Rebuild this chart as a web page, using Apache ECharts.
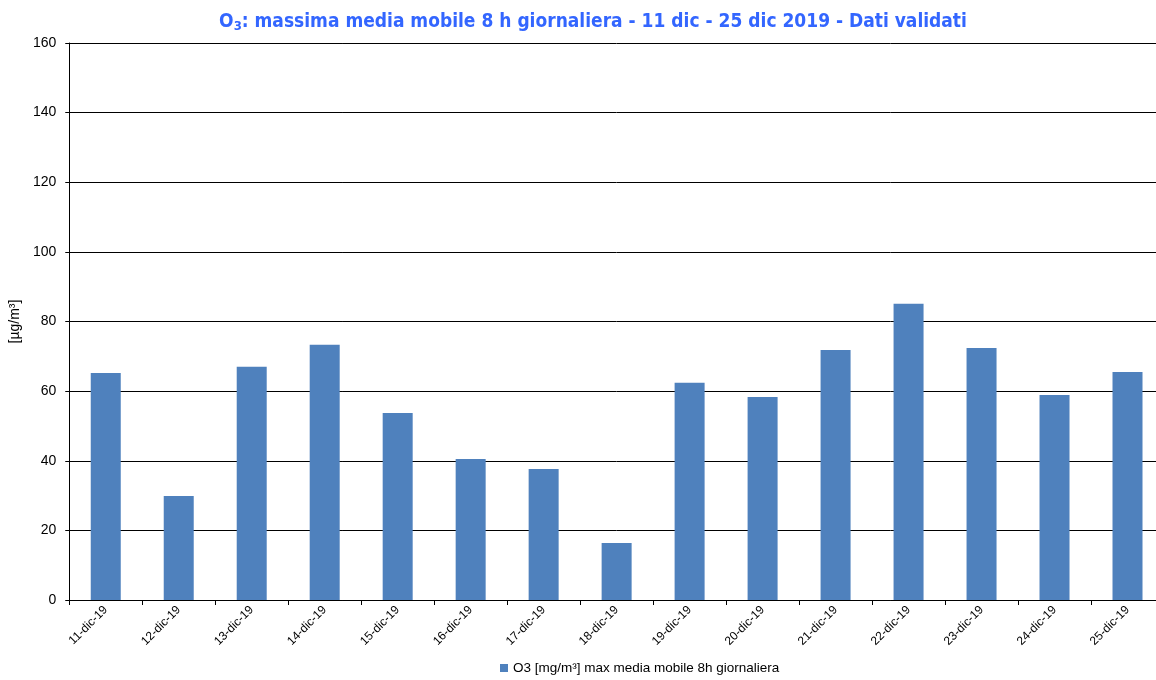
<!DOCTYPE html>
<html>
<head>
<meta charset="utf-8">
<script src="https://cdn.jsdelivr.net/npm/echarts@6/dist/echarts.min.js"></script>
<style>
  html, body { margin: 0; padding: 0; background: #fff; overflow: hidden; }
  #chart { width: 1170px; height: 680px; }
</style>
</head>
<body>
<div id="chart"></div>
<script>
// Giorni del periodo 11-25 dicembre 2019
const days = ['11-dic-19', '12-dic-19', '13-dic-19', '14-dic-19', '15-dic-19', '16-dic-19', '17-dic-19',
  '18-dic-19', '19-dic-19', '20-dic-19', '21-dic-19', '22-dic-19', '23-dic-19', '24-dic-19', '25-dic-19'];
// Massima media mobile 8 h giornaliera di O3 (µg/m³)
const o3Values = [65.2, 29.9, 67.0, 73.3, 53.7, 40.5, 37.6, 16.4, 62.4, 58.3, 71.8, 85.1, 72.4, 58.9, 65.5];
const seriesName = 'O3 [mg/m³] max media mobile 8h giornaliera';
const yTicks = { min: 0, max: 160, interval: 20 };

const chart = echarts.init(document.getElementById('chart'));
chart.setOption({
  animation: false,
  title: {
    text: '{b|O}{s|3}{b|: massima media mobile 8 h giornaliera - 11 dic - 25 dic 2019 - Dati validati}',
    left: 588,
    textAlign: 'center',
    top: 6,
    textStyle: {
      rich: {
        b: { fontFamily: 'DejaVu Sans Condensed', fontWeight: 'bold', fontSize: 19, color: '#3366FF' },
        s: { fontFamily: 'DejaVu Sans Condensed', fontWeight: 'bold', fontSize: 13, color: '#3366FF', verticalAlign: 'bottom', padding: [9, 0, 0, 0] }
      }
    }
  },
  grid: { left: 69, width: 1095, top: 43, bottom: 80, containLabel: false },
  legend: {
    bottom: 0,
    left: 495,
    itemWidth: 8,
    itemHeight: 8,
    itemGap: 4,
    icon: 'rect',
    textStyle: { fontFamily: 'Liberation Sans', fontSize: 13.5, color: '#000' },
    data: [seriesName]
  },
  xAxis: {
    type: 'category',
    data: days,
    axisLine: { lineStyle: { color: '#000', width: 1 } },
    axisTick: { show: true, alignWithLabel: false, length: 5, lineStyle: { color: '#000' } },
    axisLabel: { rotate: 45, fontFamily: 'Liberation Sans', fontSize: 12, color: '#000', margin: 8, interval: 0 }
  },
  yAxis: {
    type: 'value',
    min: yTicks.min,
    max: yTicks.max,
    interval: yTicks.interval,
    name: '[µg/m³]',
    nameLocation: 'middle',
    nameGap: 42,
    nameRotate: 90,
    nameTextStyle: { fontFamily: 'Liberation Sans', fontSize: 14, color: '#000' },
    axisLine: { show: true, lineStyle: { color: '#000', width: 1 } },
    axisTick: { show: true, length: 4, lineStyle: { color: '#000' } },
    axisLabel: { fontFamily: 'Liberation Sans', fontSize: 14, color: '#000', margin: 13 },
    splitLine: { lineStyle: { color: '#000', width: 1 } }
  },
  series: [{
    name: seriesName,
    type: 'bar',
    data: o3Values,
    barWidth: 30,
    itemStyle: { color: '#4F81BD' }
  }]
});
</script>
</body>
</html>
